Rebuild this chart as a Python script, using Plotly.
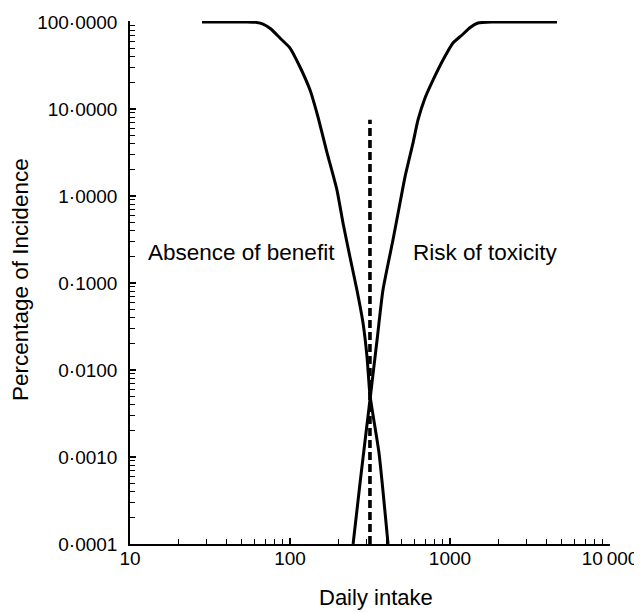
import plotly.graph_objects as go

# Absence of benefit (decreasing)
benefit_x = [28.2, 53.9, 61, 67.8, 76, 86.6, 100, 115.5, 133.4, 149.6, 170, 196.6, 214.4, 237, 262, 286, 303, 316, 360, 410]
benefit_y = [100, 100, 99, 94.8, 83, 65.4, 50.2, 30.4, 16.5, 8.09, 3.2, 1.17, 0.49, 0.199, 0.083, 0.0347, 0.0141, 0.00517, 0.00111, 0.0001]

# Risk of toxicity (increasing)
toxicity_x = [248, 274, 298.5, 316, 350, 381, 440, 487, 523, 587, 631, 698, 783, 904, 1044, 1189, 1330, 1496, 1830, 4666]
toxicity_y = [0.0001, 0.000502, 0.00189, 0.00452, 0.0221, 0.083, 0.312, 0.832, 1.65, 4.06, 7.48, 13.4, 21.5, 36.6, 57.4, 70.9, 86, 97.4, 100, 100]

# Dashed reference intake
ref_x = [316, 316]
ref_y = [0.0001, 7.5]

x_tickvals = [10, 100, 1000, 10000]
x_ticktext = ["10", "100", "1000", "10\u2009000"]
y_tickvals = [0.0001, 0.001, 0.01, 0.1, 1, 10, 100]
y_ticktext = ["0·0001", "0·0010", "0·0100", "0·1000", "1·0000", "10·0000", "100·0000"]

x_minor = [m * 10 ** e for e in range(1, 4) for m in range(2, 10)]
y_minor = [m * 10.0 ** e for e in range(-4, 2) for m in range(2, 10)]

FONT = "Liberation Sans, Arial, sans-serif"
PAGE_OFFSET = 8  # default body margin of the written page

fig = go.Figure()
fig.add_trace(go.Scatter(x=benefit_x, y=benefit_y, mode="lines",
                         line=dict(color="black", width=3, shape="spline", smoothing=0.5),
                         showlegend=False))
fig.add_trace(go.Scatter(x=toxicity_x, y=toxicity_y, mode="lines",
                         line=dict(color="black", width=3, shape="spline", smoothing=0.5),
                         showlegend=False))
fig.add_trace(go.Scatter(x=ref_x, y=ref_y, mode="lines",
                         line=dict(color="black", width=3.6, dash="8px,4px"), showlegend=False))

fig.update_layout(
    width=642 - PAGE_OFFSET, height=613 - PAGE_OFFSET,
    margin=dict(l=130 - PAGE_OFFSET, r=32, t=21 - PAGE_OFFSET, b=69),
    paper_bgcolor="white", plot_bgcolor="white",
    font=dict(family=FONT, color="black", size=19),
    xaxis=dict(type="log", range=[1, 4], showgrid=False, zeroline=False, automargin=False,
               showline=True, linecolor="black", linewidth=1.5,
               ticks="inside", ticklen=6, tickwidth=1.5, tickcolor="black",
               tickmode="array", tickvals=x_tickvals, ticktext=x_ticktext,
               tickfont=dict(size=19), ticklabelstandoff=-4,
               minor=dict(ticks="inside", ticklen=5, tickwidth=1.2, tickcolor="black",
                          tickmode="array", tickvals=x_minor, showgrid=False)),
    yaxis=dict(type="log", range=[-4, -4 + 523 / 87], showgrid=False, zeroline=False, automargin=False,
               showline=True, linecolor="black", linewidth=1.5,
               ticks="inside", ticklen=6, tickwidth=1.5, tickcolor="black",
               tickmode="array", tickvals=y_tickvals, ticktext=y_ticktext,
               tickfont=dict(size=19), ticklabelstandoff=7,
               minor=dict(ticks="inside", ticklen=5, tickwidth=1.2, tickcolor="black",
                          tickmode="array", tickvals=y_minor, showgrid=False)),
    annotations=[
        dict(text="Absence of benefit", xref="paper", yref="paper",
             x=(241 - 130) / 480, y=(544 - 253) / 523, xanchor="center", yanchor="middle",
             showarrow=False, font=dict(size=22.5)),
        dict(text="Risk of toxicity", xref="paper", yref="paper",
             x=(485 - 130) / 480, y=(544 - 253) / 523, xanchor="center", yanchor="middle",
             showarrow=False, font=dict(size=22.5)),
        dict(text="Daily intake", xref="paper", yref="paper",
             x=(376 - 130) / 480, y=0, yshift=-53, xanchor="center", yanchor="middle",
             showarrow=False, font=dict(size=22)),
        dict(text="Percentage of Incidence", xref="paper", yref="paper",
             x=0, xshift=-110, y=(544 - 280) / 523, xanchor="center", yanchor="middle",
             textangle=-90, showarrow=False, font=dict(size=22.5)),
    ],
)

fig.write_html("out.html")
